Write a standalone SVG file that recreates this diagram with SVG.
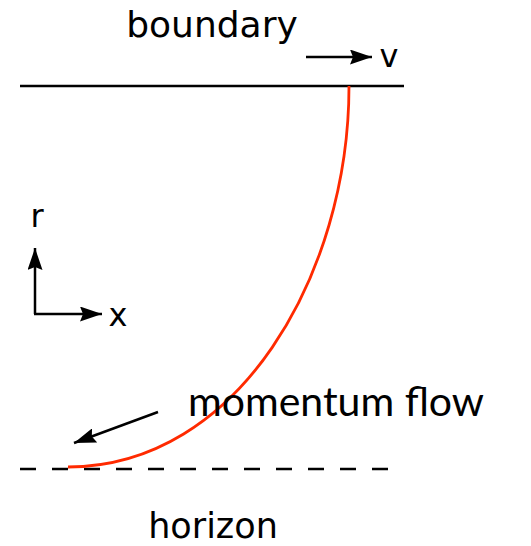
<svg xmlns="http://www.w3.org/2000/svg" width="531" height="546" viewBox="0 0 531 546">
<style>
.t{font-family:"DejaVu Sans",sans-serif;fill:#000}
.ln{stroke:#000;stroke-width:2.5;fill:none}
</style>
<defs>
<marker id="ah" viewBox="0 0 22 15" refX="22" refY="7.5" markerWidth="22" markerHeight="15" markerUnits="userSpaceOnUse" orient="auto">
<path d="M0,0 L22,7.5 L0,15 L3,7.5 Z" fill="#000"/>
</marker>
</defs>
<rect width="531" height="546" fill="#fff"/>
<g id="boundary">
<line class="ln" x1="20" y1="86" x2="404" y2="86"/>
<text class="t" x="212" y="37" font-size="36" text-anchor="middle">boundary</text>
</g>
<g id="velocity">
<line class="ln" x1="306" y1="57" x2="372" y2="57" marker-end="url(#ah)"/>
<text class="t" x="389" y="67" font-size="32" text-anchor="middle">v</text>
</g>
<g id="axes">
<line class="ln" x1="35" y1="314" x2="35" y2="248" marker-end="url(#ah)"/>
<line class="ln" x1="34" y1="314" x2="102" y2="314" marker-end="url(#ah)"/>
<text class="t" x="37" y="227" font-size="32" text-anchor="middle">r</text>
<text class="t" x="118" y="326" font-size="32" text-anchor="middle">x</text>
</g>
<g id="horizon">
<line class="ln" x1="20" y1="469" x2="390" y2="469" stroke-dasharray="16 16"/>
<text class="t" x="213" y="538" font-size="35" text-anchor="middle">horizon</text>
</g>
<g id="curve">
<path d="M349,86 C349,275 238,467 68,467" fill="none" stroke="#ff2a00" stroke-width="2.8"/>
</g>
<g id="momentum">
<line class="ln" x1="158" y1="412" x2="74" y2="443" marker-end="url(#ah)"/>
<text x="336" y="416" font-family="Lato,sans-serif" font-size="41" text-anchor="middle" fill="#000">momentum flow</text>
</g>
</svg>
